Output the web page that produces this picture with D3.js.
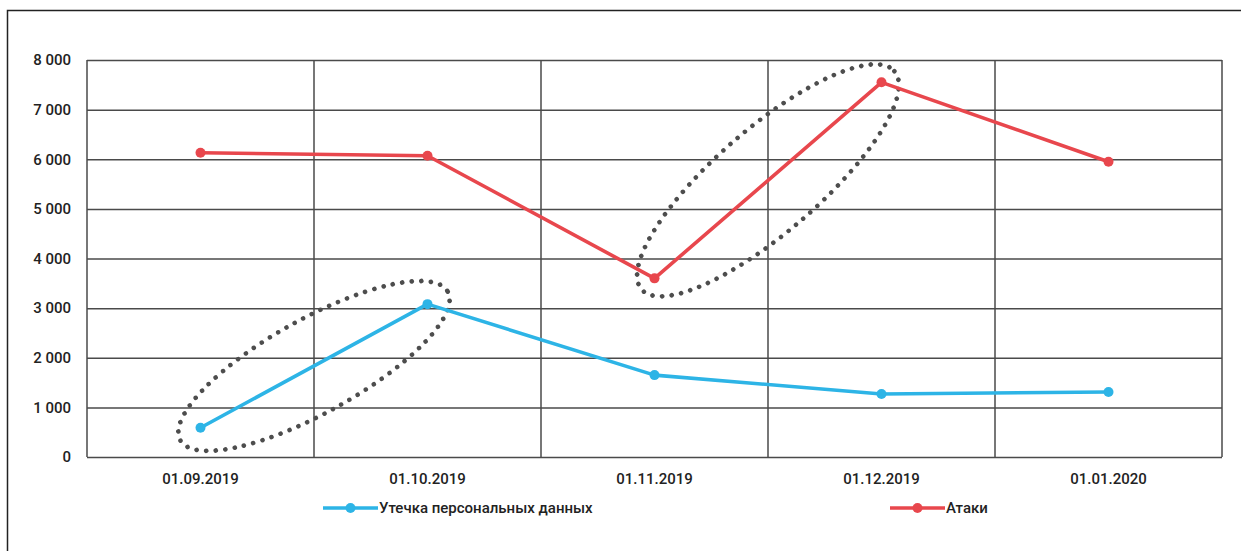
<!DOCTYPE html>
<html>
<head>
<meta charset="utf-8">
<script src="https://cdn.jsdelivr.net/npm/d3@7"></script>
<style>
  html, body { margin: 0; padding: 0; background: #fff; }
  svg { display: block; }
  text { font-family: Roboto, "Open Sans", sans-serif; font-weight: 500; fill: #222; }
</style>
</head>
<body>
<svg id="chart" width="1241" height="551"></svg>
<script>
// Monthly figures
const dates = ["01.09.2019", "01.10.2019", "01.11.2019", "01.12.2019", "01.01.2020"];
const leaks = [590, 3080, 1650, 1270, 1310];     // Утечка персональных данных
const attacks = [6130, 6070, 3600, 7550, 5950];  // Атаки
const yTicks = [0, 1000, 2000, 3000, 4000, 5000, 6000, 7000, 8000];

const seriesNames = ["Утечка персональных данных", "Атаки"];
const seriesColors = ["#2db4e6", "#e8474d"];

// Highlighted segments: [series index, from point, to point]
const highlights = [[0, 0, 1], [1, 2, 3]];

const svg = d3.select("#chart");
const margin = { left: 87, right: 19, top: 60, bottom: 94 };
const W = 1241, H = 551;

const x = d3.scaleBand().domain(dates).range([margin.left, W - margin.right]);
const y = d3.scaleLinear().domain([0, 8000]).range([H - margin.bottom, margin.top]);

// Outer frame (top and left edges)
svg.append("path")
  .attr("d", `M7.5,${H + 2} V10.5 H${W + 2}`)
  .attr("fill", "none")
  .attr("stroke", "#222")
  .attr("stroke-width", 1.5);

const fmt = v => d3.format(",")(v).replace(/,/g, " ");

// Horizontal gridlines + y labels
const yAxis = d3.axisLeft(y).tickValues(yTicks).tickSize(-(W - margin.left - margin.right)).tickPadding(16)
  .tickFormat(d => fmt(d));
const gy = svg.append("g").attr("transform", `translate(${margin.left},0)`).call(yAxis);
gy.select(".domain").remove();
gy.selectAll(".tick line").attr("stroke", "#4a4a4a").attr("stroke-width", 1.5);
gy.selectAll(".tick text").style("font-size", "15px").attr("fill", "#222");

// Vertical gridlines (category boundaries)
const bounds = dates.map(d => x(d)).concat([x.range()[1]]);
svg.append("g").selectAll("line").data(bounds).join("line")
  .attr("x1", d => d).attr("x2", d => d)
  .attr("y1", y(8000)).attr("y2", y(0))
  .attr("stroke", "#4a4a4a").attr("stroke-width", 1.5);

// X labels
const xAxis = d3.axisBottom(x).tickSize(0).tickPadding(16);
const gx = svg.append("g").attr("transform", `translate(0,${y(0)})`).call(xAxis);
gx.select(".domain").remove();
gx.selectAll(".tick text").style("font-size", "15px").attr("fill", "#222");

const cx = d => x(d) + x.bandwidth() / 2;
const data = [leaks, attacks];

// Dotted ellipses around highlighted segments: [rx, ry, extra tilt in degrees]
const ellipseShape = [[153, 47, -0.5], [167, 52, 0]];
highlights.forEach(([s, i0, i1], k) => {
  const p0 = [cx(dates[i0]), y(data[s][i0])];
  const p1 = [cx(dates[i1]), y(data[s][i1])];
  const mx = (p0[0] + p1[0]) / 2, my = (p0[1] + p1[1]) / 2;
  const ang = Math.atan2(p1[1] - p0[1], p1[0] - p0[0]) * 180 / Math.PI + ellipseShape[k][2];
  svg.append("ellipse")
    .attr("cx", 0).attr("cy", 0)
    .attr("rx", ellipseShape[k][0]).attr("ry", ellipseShape[k][1])
    .attr("transform", `translate(${mx},${my}) rotate(${ang})`)
    .attr("fill", "none")
    .attr("stroke", "#4d4d4d")
    .attr("stroke-width", 4.6)
    .attr("stroke-linecap", "round")
    .attr("stroke-dasharray", "0 9.6");
});

// Series lines and markers
const line = d3.line().x((d, i) => cx(dates[i])).y(d => y(d));
data.forEach((vals, s) => {
  svg.append("path")
    .datum(vals)
    .attr("d", line)
    .attr("fill", "none")
    .attr("stroke", seriesColors[s])
    .attr("stroke-width", 3.6)
    .attr("stroke-linejoin", "round");
  svg.append("g").selectAll("circle").data(vals).join("circle")
    .attr("cx", (d, i) => cx(dates[i]))
    .attr("cy", d => y(d))
    .attr("r", 5)
    .attr("fill", seriesColors[s]);
});

// Legend
const legendX = [323, 890];
const legendY = 508;
seriesNames.forEach((name, s) => {
  const g = svg.append("g").attr("transform", `translate(${legendX[s]},${legendY})`);
  g.append("line").attr("x1", 0).attr("x2", 55).attr("y1", 0).attr("y2", 0)
    .attr("stroke", seriesColors[s]).attr("stroke-width", 3.6);
  g.append("circle").attr("cx", 27.5).attr("cy", 0).attr("r", 5).attr("fill", seriesColors[s]);
  g.append("text").attr("x", 56).attr("y", 0).attr("dy", "0.35em")
    .style("font-size", "15px").text(name);
});
</script>
</body>
</html>
